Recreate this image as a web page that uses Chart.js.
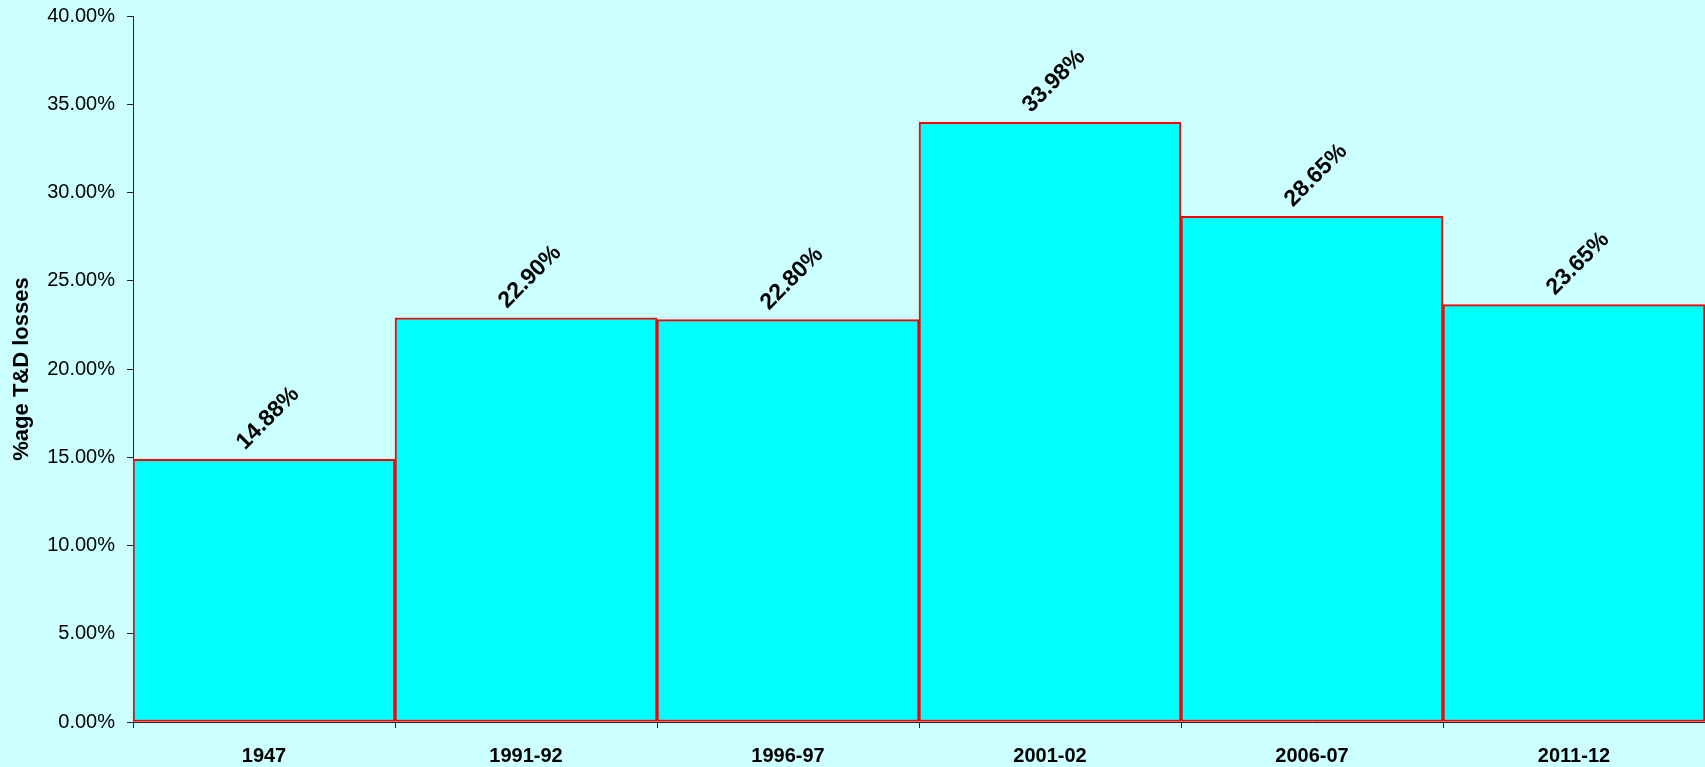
<!DOCTYPE html>
<html>
<head>
<meta charset="utf-8">
<script src="https://cdn.jsdelivr.net/npm/chart.js@4.4.1/dist/chart.umd.min.js"></script>
<style>
  html, body { margin: 0; padding: 0; background: #CCFFFF; }
  #wrap { width: 1705px; height: 767px; }
</style>
</head>
<body>
<div id="wrap"><canvas id="lossChart" width="1705" height="767"></canvas></div>
<script>
// Datos del gráfico
const years = ['1947', '1991-92', '1996-97', '2001-02', '2006-07', '2011-12'];
const lossPct = [14.88, 22.90, 22.80, 33.98, 28.65, 23.65];
const yTicks = [0, 5, 10, 15, 20, 25, 30, 35, 40];

// Etiquetas giradas encima de cada barra
const barLabels = {
  id: 'barLabels',
  afterDatasetsDraw(chart) {
    const ctx = chart.ctx;
    const meta = chart.getDatasetMeta(0);
    ctx.save();
    ctx.font = 'bold 23px "Liberation Sans", Arial, sans-serif';
    ctx.fillStyle = '#000';
    ctx.textAlign = 'center';
    ctx.textBaseline = 'middle';
    meta.data.forEach((bar, i) => {
      ctx.save();
      ctx.translate(bar.x + 4, bar.y - 41);
      ctx.rotate(-Math.PI / 4);
      ctx.fillText(lossPct[i].toFixed(2) + '%', 0, 0);
      ctx.restore();
    });
    ctx.restore();
  }
};

const ctx = document.getElementById('lossChart').getContext('2d');
new Chart(ctx, {
  type: 'bar',
  data: {
    labels: years,
    datasets: [{
      data: lossPct,
      backgroundColor: '#00FFFF',
      borderColor: '#FF0000',
      borderWidth: 2,
      borderSkipped: false,
      barPercentage: 1,
      categoryPercentage: 1
    }]
  },
  options: {
    responsive: false,
    animation: false,
    layout: { padding: { top: 16, left: 0, right: 0, bottom: 0 } },
    plugins: { legend: { display: false }, tooltip: { enabled: false } },
    scales: {
      x: {
        offset: true,
        grid: { offset: true, drawOnChartArea: false, tickLength: 6, color: '#222' },
        border: { color: '#222' },
        ticks: {
          color: '#000',
          padding: 16,
          font: { family: '"Liberation Sans", Arial, sans-serif', size: 20, weight: 'bold' }
        },
        afterFit(scale) {
          scale.height = 45;
          scale.paddingLeft = 0;
          scale.paddingRight = 0;
        }
      },
      y: {
        min: 0,
        max: 40,
        grid: { drawOnChartArea: false, tickLength: 6, color: '#222' },
        border: { color: '#222' },
        afterBuildTicks(scale) { scale.ticks = yTicks.map(v => ({ value: v })); },
        ticks: {
          color: '#000',
          padding: 12,
          font: { family: '"Liberation Sans", Arial, sans-serif', size: 20 },
          callback: v => v.toFixed(2) + '%'
        },
        title: {
          display: true,
          text: '%age T&D losses',
          color: '#000',
          padding: { top: 9, bottom: 4 },
          font: { family: '"Liberation Sans", Arial, sans-serif', size: 22, weight: 'bold' }
        },
        afterFit(scale) {
          scale.width = 133;
          scale.paddingTop = 0;
          scale.paddingBottom = 0;
        }
      }
    }
  },
  plugins: [barLabels]
});
</script>
</body>
</html>
